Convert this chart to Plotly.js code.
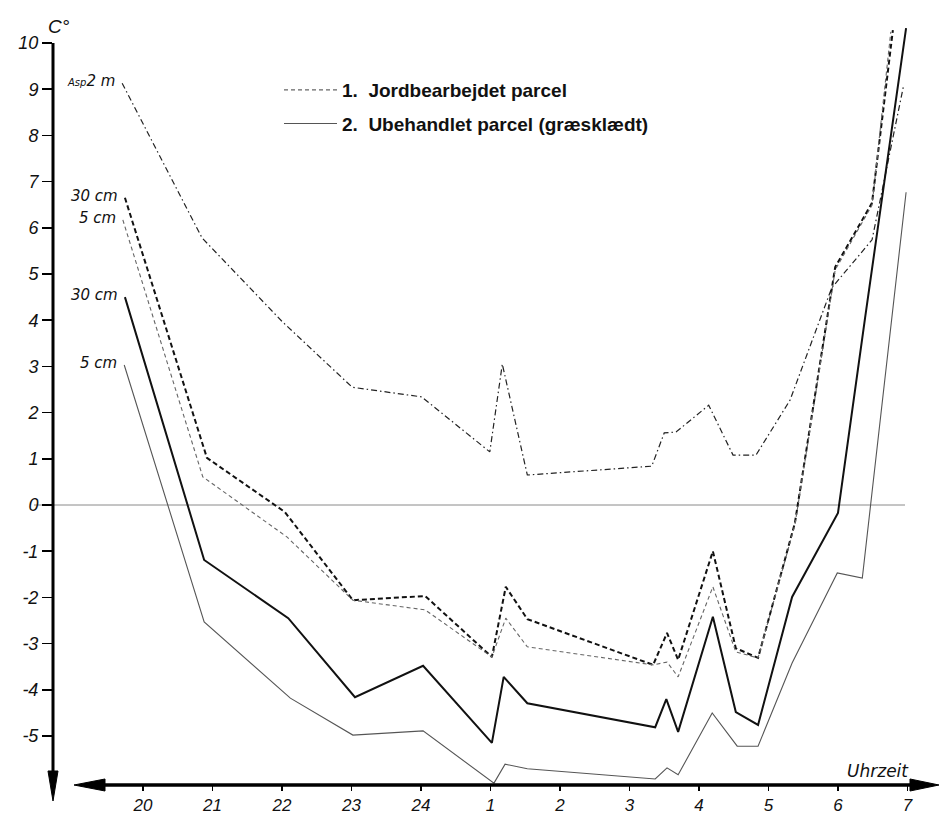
<!DOCTYPE html>
<html><head><meta charset="utf-8">
<script src="https://cdn.plot.ly/plotly-3.0.1.min.js"></script>
<style>html,body{margin:0;padding:0;background:#fff}</style>
</head><body><div id="chart" style="width:940px;height:817px"></div>
<script>
// ---- axis ticks (hours of the night run on continuously: 25 = 1 o'clock ...) ----
const tickHours  = [20,21,22,23,24,25,26,27,28,29,30,31];
const tickLabels = ["20","21","22","23","24","1","2","3","4","5","6","7"];
const yTickVals   = [-5,-4,-3,-2,-1,0,1,2,3,4,5,6,7,8,9,10];
const yTickLabels = ["-5","-4","-3","-2","-1","0","1","2","3","4","5","6","7","8","9","10"];

// ---- Asp 2 m (air) ----
const aspHours = [19.70,20.85,22.01,23.01,24.01,24.99,25.17,25.53,27.32,27.50,27.67,28.14,28.49,28.82,29.31,29.91,30.49,30.94];
const aspTemp  = [9.13, 5.78, 3.96, 2.55, 2.34, 1.15, 3.05, 0.65, 0.84, 1.56, 1.58, 2.16, 1.08, 1.08, 2.27, 4.70, 5.74, 9.05];

// ---- 1. Jordbearbejdet parcel, 30 cm ----
const till30Hours = [19.74,20.92,22.04,23.02,24.06,25.02,25.22,25.53,27.34,27.54,27.70,28.20,28.53,28.85,29.38,29.96,30.49,30.79];
const till30Temp  = [6.65, 1.02,-0.15,-2.06,-1.97,-3.29,-1.77,-2.47,-3.46,-2.77,-3.35,-1.00,-3.10,-3.31,-0.39, 5.15, 6.54,10.28];

// ---- 1. Jordbearbejdet parcel, 5 cm ----
const till5Hours = [19.71,20.86,22.07,23.02,24.06,25.02,25.22,25.53,27.34,27.54,27.70,28.20,28.53,28.85,29.38,29.96,30.49,30.76];
const till5Temp  = [6.17, 0.61,-0.69,-2.06,-2.27,-3.29,-2.45,-3.07,-3.46,-3.40,-3.72,-1.77,-3.18,-3.31,-0.43, 5.09, 6.49,10.24];

// ---- 2. Ubehandlet parcel (græsklædt), 30 cm ----
const grass30Hours = [19.74,20.88,22.09,23.05,24.03,25.02,25.19,25.53,27.37,27.53,27.70,28.20,28.53,28.85,29.34,30.00,30.39,30.98];
const grass30Temp  = [4.50,-1.19,-2.45,-4.16,-3.48,-5.15,-3.72,-4.29,-4.81,-4.20,-4.91,-2.42,-4.48,-4.76,-1.99,-0.17, 4.05,10.32];

// ---- 2. Ubehandlet parcel (græsklædt), 5 cm ----
const grass5Hours = [19.73,20.88,22.12,23.02,24.03,25.05,25.21,25.53,27.37,27.54,27.70,28.19,28.55,28.85,29.34,29.99,30.35,30.98];
const grass5Temp  = [3.03,-2.53,-4.18,-4.98,-4.89,-6.02,-5.61,-5.71,-5.93,-5.69,-5.84,-4.50,-5.22,-5.22,-3.42,-1.47,-1.58, 6.77];

// ---- page geometry ----
const L = 53, R = 935, T = 25, B = 800;
const fx = px => (px - L) / (R - L);
const fy = py => (B - py) / (B - T);
const P = (x, y) => fx(x).toFixed(5) + ',' + fy(y).toFixed(5);

const tickFont  = {family: 'Liberation Sans, Arial, sans-serif', size: 18, color: '#111', style: 'italic'};
const xTickFont = {family: 'Liberation Sans, Arial, sans-serif', size: 17, color: '#111', style: 'italic'};
const lblFont   = {family: 'DejaVu Sans, sans-serif', size: 15, color: '#111', style: 'italic'};

const traces = [
  {x: aspHours, y: aspTemp, mode: 'lines', showlegend: false,
   line: {color: '#222', width: 1.2, dash: '6px,3px,1.5px,3px'}},
  {x: till30Hours, y: till30Temp, mode: 'lines', showlegend: false,
   line: {color: '#111', width: 2, dash: '5px,3px'}},
  {x: till5Hours, y: till5Temp, mode: 'lines', name: '1.\u00a0 Jordbearbejdet parcel', legendgroup: 'a',
   line: {color: '#666', width: 1.1, dash: '4px,3px'}},
  {x: grass30Hours, y: grass30Temp, mode: 'lines', showlegend: false,
   line: {color: '#111', width: 2}},
  {x: grass5Hours, y: grass5Temp, mode: 'lines', name: '2.\u00a0 Ubehandlet parcel (græsklædt)', legendgroup: 'b',
   line: {color: '#555', width: 1.1}}
];

const labels = [
  {x: aspHours[0], y: aspTemp[0], text: '<span style="font-size:10px">Asp</span>2 m'},
  {x: till30Hours[0], y: till30Temp[0], text: '30 cm'},
  {x: till5Hours[0], y: till5Temp[0], text: '5 cm'},
  {x: grass30Hours[0], y: grass30Temp[0], text: '30 cm'},
  {x: grass5Hours[0], y: grass5Temp[0], text: '5 cm'}
].map(a => Object.assign(a, {xref: 'x', yref: 'y', xanchor: 'right', yanchor: 'middle',
  xshift: -5, yshift: 2, showarrow: false, font: lblFont}));

const annotations = labels.concat([
  {xref: 'paper', yref: 'paper', x: fx(46), y: fy(27), xanchor: 'left', yanchor: 'middle',
   text: 'C°', showarrow: false, font: {family: 'Liberation Sans, sans-serif', size: 19, style: 'italic', color: '#111'}},
  {xref: 'paper', yref: 'paper', x: fx(911), y: fy(771), xanchor: 'right', yanchor: 'middle',
   text: 'Uhrzeit', showarrow: false, font: {family: 'DejaVu Sans, sans-serif', size: 17, style: 'italic', color: '#111'}}
]);

const shapes = [
  {type: 'line', xref: 'paper', yref: 'y', x0: fx(34), x1: fx(905), y0: 0, y1: 0,
   line: {color: '#8a8a8a', width: 1}, layer: 'below'},
  {type: 'line', xref: 'paper', yref: 'paper', x0: fx(53), x1: fx(53), y0: fy(43), y1: fy(775),
   line: {color: '#000', width: 3}},
  {type: 'path', xref: 'paper', yref: 'paper', path: 'M' + P(48, 771) + 'L' + P(58, 771) + 'L' + P(53, 801) + 'Z',
   fillcolor: '#000', line: {color: '#000', width: 1}},
  {type: 'line', xref: 'paper', yref: 'paper', x0: fx(100), x1: fx(915), y0: fy(785), y1: fy(785),
   line: {color: '#000', width: 3.5}},
  {type: 'path', xref: 'paper', yref: 'paper', path: 'M' + P(74, 785) + 'L' + P(105, 779) + 'L' + P(105, 791) + 'Z',
   fillcolor: '#000', line: {color: '#000', width: 1}},
  {type: 'path', xref: 'paper', yref: 'paper', path: 'M' + P(939, 785) + 'L' + P(910, 779) + 'L' + P(910, 791) + 'Z',
   fillcolor: '#000', line: {color: '#000', width: 1}}
];

const layout = {
  width: 940, height: 817,
  margin: {l: L, r: 940 - R, t: T, b: 817 - B, pad: 0},
  paper_bgcolor: '#fff', plot_bgcolor: 'rgba(0,0,0,0)',
  showlegend: true,
  legend: {x: fx(279), y: fy(71), xanchor: 'left', yanchor: 'top', bgcolor: 'rgba(0,0,0,0)',
           borderwidth: 0, traceorder: 'grouped', tracegroupgap: 6, itemwidth: 53,
           font: {family: 'Liberation Sans, Arial, sans-serif', size: 19, weight: 'bold', color: '#111'}},
  xaxis: {range: [18.705, 31.396], anchor: 'free', position: fy(785),
          tickvals: tickHours, ticktext: tickLabels, ticks: 'outside', ticklen: 5, tickwidth: 1.5,
          tickcolor: '#000', showline: false, showgrid: false, zeroline: false, tickfont: xTickFont,
          fixedrange: true},
  yaxis: {range: [-6.385, 10.39], tickvals: yTickVals, ticktext: yTickLabels,
          ticks: 'outside', ticklen: 10, tickwidth: 1.5, tickcolor: '#000',
          showline: false, showgrid: false, zeroline: false, tickfont: tickFont, fixedrange: true},
  shapes: shapes,
  annotations: annotations,
  hovermode: false
};

Plotly.newPlot('chart', traces, layout, {staticPlot: true, displayModeBar: false});
</script></body></html>
